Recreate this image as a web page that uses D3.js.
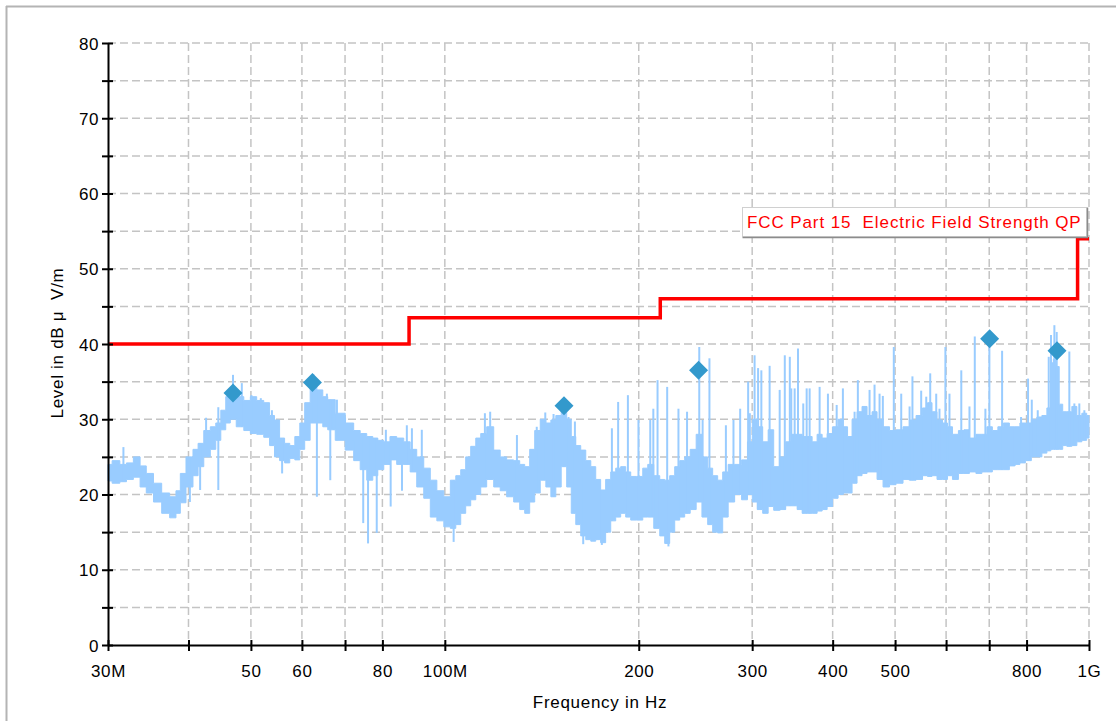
<!DOCTYPE html>
<html>
<head>
<meta charset="utf-8">
<script src="https://cdn.jsdelivr.net/npm/d3@7"></script>
<style>
  html, body { margin: 0; padding: 0; background: #ffffff; }
  svg { display: block; font-family: "Liberation Sans", Arial, sans-serif; }
</style>
</head>
<body>
<svg id="chart" width="1116" height="721"></svg>
<script>
// ---- Measured trace: frequency (MHz) with upper / lower envelope (dBµV/m) ----
const traceFreq = [
  30.0, 30.9, 31.7, 32.4, 33.3, 34.0, 34.8, 35.8, 36.9, 37.9, 38.6, 39.1, 40.2, 41.1, 41.7,
  42.8, 43.7, 44.5, 45.3, 46.1, 46.8, 48.1, 49.4, 50.4, 51.7, 53.0, 53.9, 54.9, 55.9, 56.9,
  58.0, 59.0, 60.1, 61.1, 62.5, 64.1, 65.2, 66.4, 68.8, 71.3, 73.1, 74.7, 76.6, 78.0, 79.4,
  81.4, 83.1, 85.3, 87.4, 89.3, 91.6, 93.9, 96.0, 98.4, 100.9, 103.1, 104.9, 106.8, 108.7, 110.7,
  112.7, 114.7, 117.6, 120.6, 123.2, 126.3, 129.5, 131.9, 134.2, 136.7, 139.1, 142.2, 144.8, 147.4, 150.0,
  153.2, 156.0, 158.3, 161.1, 164.0, 167.0, 170.0, 173.0, 176.1, 179.3, 182.6, 185.8, 189.2, 192.6, 196.1,
  201.1, 204.7, 208.4, 213.7, 217.5, 221.4, 225.4, 229.5, 233.6, 237.8, 243.0, 248.2, 253.6, 258.2, 262.8,
  267.6, 272.4, 278.3, 285.3, 292.5, 297.5, 302.8, 308.2, 314.8, 320.5, 327.5, 334.6, 341.8, 349.2, 355.5,
  361.9, 368.4, 375.0, 381.8, 388.7, 395.7, 404.2, 411.5, 418.9, 424.9, 432.6, 440.3, 448.3, 456.4, 464.6,
  473.0, 485.0, 495.5, 508.0, 520.9, 532.2, 545.7, 557.5, 565.5, 575.7, 586.0, 598.7, 607.3, 620.4, 633.8,
  645.3, 659.2, 675.9, 688.0, 700.4, 715.5, 728.5, 744.3, 760.4, 774.2, 788.1, 805.1, 822.6, 837.5, 852.6,
  867.9, 877.0, 883.6, 893.0, 905.0, 915.7, 932.1, 949.0, 966.1, 983.5, 1000.0
];
const traceHigh = [
  24.0, 24.5, 24.0, 24.2, 25.0, 23.8, 22.8, 21.5, 20.2, 19.7, 20.5, 22.8, 25.0, 26.0, 26.8,
  28.5, 29.0, 29.5, 31.2, 33.0, 34.0, 33.0, 32.5, 33.0, 32.5, 32.2, 30.5, 29.9, 27.5, 26.8,
  26.5, 27.7, 29.5, 32.2, 35.0, 33.9, 33.0, 32.6, 30.8, 29.5, 28.5, 28.1, 27.7, 27.5, 27.2,
  27.0, 27.7, 27.5, 27.0, 26.0, 25.0, 23.5, 21.9, 20.5, 19.7, 21.9, 22.5, 23.3, 25.0, 26.4,
  27.5, 28.1, 29.0, 25.9, 25.0, 24.6, 24.5, 24.0, 23.7, 26.0, 28.5, 30.0, 29.5, 29.9, 30.5,
  31.5, 30.0, 27.7, 26.5, 25.9, 24.5, 23.7, 22.0, 20.6, 22.0, 23.0, 23.5, 23.7, 23.0, 22.4,
  22.4, 23.5, 24.0, 22.5, 22.0, 21.9, 22.5, 23.7, 24.5, 25.0, 26.0, 28.0, 25.0, 23.5, 22.5,
  21.9, 23.0, 24.0, 24.0, 24.6, 27.0, 30.0, 29.0, 27.0, 28.6, 23.7, 25.0, 27.0, 28.0, 28.0,
  27.7, 27.7, 27.0, 28.0, 27.5, 28.1, 29.0, 30.0, 29.0, 27.7, 30.0, 31.0, 31.7, 30.5, 31.0,
  30.0, 29.0, 28.5, 28.6, 29.0, 29.9, 30.5, 31.5, 32.2, 31.0, 29.9, 29.5, 29.0, 28.0, 28.5,
  28.6, 27.5, 28.0, 28.0, 29.0, 28.5, 29.0, 29.5, 29.0, 29.0, 29.5, 29.5, 30.0, 30.3, 30.5,
  31.5, 37.5, 38.0, 37.0, 32.0, 31.0, 31.0, 31.7, 30.5, 30.8, 30.5
];
const traceLow = [
  21.8, 21.5, 21.7, 22.0, 22.3, 21.0, 20.2, 19.0, 17.5, 16.9, 17.5, 18.9, 21.0, 22.5, 23.7,
  25.0, 26.0, 27.2, 28.6, 29.5, 30.0, 29.0, 28.5, 28.1, 28.0, 27.6, 26.5, 25.0, 24.5, 24.2,
  24.8, 24.6, 26.0, 27.2, 29.5, 29.5, 29.0, 28.6, 27.2, 25.9, 24.5, 23.3, 21.9, 22.5, 23.3,
  24.0, 24.6, 24.0, 24.0, 23.0, 21.0, 19.5, 17.0, 16.5, 15.7, 15.5, 16.0, 17.5, 18.5, 19.3,
  20.0, 21.0, 22.0, 21.0, 20.5, 19.7, 19.0, 18.0, 17.5, 19.0, 20.2, 21.9, 21.0, 19.7, 21.0,
  23.7, 21.0, 17.5, 16.0, 14.5, 14.0, 13.8, 14.0, 13.6, 15.0, 16.5, 17.0, 17.5, 17.0, 16.6,
  16.6, 17.0, 17.0, 15.5, 14.5, 13.5, 15.0, 16.6, 17.0, 17.5, 18.0, 19.0, 17.0, 16.0, 15.0,
  14.9, 17.0, 19.0, 20.0, 19.3, 20.0, 19.0, 18.0, 17.5, 18.4, 17.9, 18.0, 18.5, 18.5, 18.0,
  17.5, 17.5, 17.5, 17.8, 18.0, 18.4, 19.5, 20.0, 20.2, 20.2, 21.5, 22.5, 22.8, 23.0, 23.0,
  22.0, 21.0, 21.3, 21.5, 22.0, 21.9, 22.0, 22.5, 22.4, 22.5, 22.0, 22.0, 22.5, 22.0, 22.8,
  22.8, 23.0, 22.8, 23.0, 23.0, 23.3, 23.3, 23.3, 23.8, 24.0, 24.2, 24.5, 25.0, 25.0, 25.5,
  25.8, 26.0, 26.0, 26.0, 26.0, 26.5, 26.4, 26.5, 27.0, 27.2, 27.5
];

// Narrow emissions rising above the noise floor
const spikeFreq = [
  31.7, 42.6, 44.5, 46.9, 48.4, 50.1, 51.8, 53.9, 62.5, 65.6, 67.2, 68.0, 70.0, 72.1,
  81.0, 87.3, 88.9, 92.1,
  115.4, 117.6, 129.4, 138.9, 143.2, 147.5, 153.1, 155.6, 159.2, 181.7, 185.8, 192.4,
  199.8, 208.4, 210.7, 213.9, 221.4, 230.5, 237.7, 248.3, 251.3, 257.5, 273.1, 280.6,
  287.4, 295.7, 297.5, 302.6, 306.4, 310.0, 319.3, 331.0, 337.1, 343.2, 345.0, 349.2,
  353.4, 360.1, 364.5, 368.4, 381.8, 393.3, 405.8, 414.9, 432.6, 437.7, 456.4, 464.6,
  473.0, 478.6, 497.7, 511.1, 526.6, 532.0, 548.9, 558.9, 566.9, 579.2, 586.0, 598.5,
  607.3, 633.5, 652.3, 664.8, 690.5, 700.4, 733.0, 766.0, 784.4, 804.2, 815.0, 832.6,
  865.9, 873.0, 883.6, 891.0, 932.1, 949.0, 966.0, 983.5
];
const spikeTop = [
  26.3, 30.2, 31.6, 35.9, 34.8, 33.2, 32.8, 31.2, 36.0, 33.4, 31.7, 32.6, 30.2, 27.2,
  28.6, 29.2, 28.8, 28.6,
  30.8, 31.0, 27.9, 29.0, 30.9, 30.7, 32.6, 30.3, 29.7, 28.8, 32.3, 33.2,
  29.9, 29.9, 31.4, 35.2, 34.3, 31.4, 31.0, 39.6, 29.9, 38.1, 29.2, 29.9,
  31.4, 35.0, 30.8, 38.5, 36.8, 36.5, 37.1, 33.9, 38.5, 38.3, 34.1, 34.1,
  39.4, 32.1, 34.1, 34.1, 34.3, 33.4, 31.9, 34.1, 31.0, 35.2, 33.9, 34.6,
  33.4, 33.1, 39.6, 33.4, 31.7, 35.7, 33.8, 33.0, 36.1, 33.4, 31.4, 39.6,
  33.4, 36.5, 31.7, 41.0, 31.4, 40.9, 39.1, 28.8, 30.3, 35.4, 32.6, 31.2,
  38.3, 41.2, 42.5, 41.6, 39.0, 32.1, 32.1, 31.2
];

// Short drop-outs below the noise floor
const dipFreq = [40.2, 41.7, 44.5, 55.9, 63.3, 66.4, 74.7, 76.0, 78.4, 82.4, 85.8, 103.2, 164.0, 175.3, 222.4];
const dipBottom = [19.0, 20.6, 20.6, 22.8, 19.7, 21.9, 16.2, 13.5, 14.9, 18.4, 20.5, 13.7, 13.4, 13.3, 13.1];

// Peak findings
const peakFreq = [46.9, 62.3, 153.1, 247.7, 701.0, 891.9];
const peakLevel = [33.5, 34.9, 31.8, 36.5, 40.7, 39.1];

// FCC Part 15 QP limit (edges in MHz, level valid from each edge)
const limitFreq = [30, 88, 216, 960, 1000];
const limitLevel = [40, 43.5, 46, 54, 54];
const limitName = "FCC Part 15  Electric Field Strength QP";

// Axes
const xTickValues = [30, 40, 50, 60, 70, 80, 100, 200, 300, 400, 500, 600, 700, 800, 1000];
const xLabelValues = [30, 50, 60, 80, 100, 200, 300, 400, 500, 800, 1000];
const xLabelTexts = ["30M", "50", "60", "80", "100M", "200", "300", "400", "500", "800", "1G"];
const yTickValues = [0, 5, 10, 15, 20, 25, 30, 35, 40, 45, 50, 55, 60, 65, 70, 75, 80];
const yLabelValues = [0, 10, 20, 30, 40, 50, 60, 70, 80];
const xTitle = "Frequency in Hz";
const yTitle = "Level in dB\u00a0\u03bc\u00a0\u00a0V/m";

// ---------------------------------------------------------------------------
(function draw() {
  const svg = d3.select("#chart");
  const W = 1116, H = 721;
  const mLeft = 108, mRight = 1089, mTop = 43, mBottom = 645;

  const x = d3.scaleLog().domain([30, 1000]).range([mLeft, mRight]);
  const y = d3.scaleLinear().domain([0, 80]).range([mBottom, mTop]);

  // outer frame (top and left edges)
  svg.append("line").attr("x1", 6).attr("x2", W).attr("y1", 6.5).attr("y2", 6.5)
    .attr("stroke", "#b4b4b4").attr("stroke-width", 2);
  svg.append("line").attr("x1", 6.5).attr("x2", 6.5).attr("y1", 6).attr("y2", H)
    .attr("stroke", "#b4b4b4").attr("stroke-width", 2);

  // grid
  const grid = svg.append("g").attr("stroke", "#c4c4c4").attr("stroke-width", 1.5)
    .attr("stroke-dasharray", "8,4");
  grid.selectAll(".gh").data(yTickValues.filter(v => v > 0)).join("line")
    .attr("x1", mLeft).attr("x2", mRight)
    .attr("y1", d => y(d)).attr("y2", d => y(d));
  grid.selectAll(".gv").data(xTickValues.filter(v => v > 30)).join("line")
    .attr("x1", d => x(d)).attr("x2", d => x(d))
    .attr("y1", mTop).attr("y2", mBottom);

  // trace
  const trace = traceFreq.map((f, i) => ({ f, hi: traceHigh[i], lo: traceLow[i] }));
  const bis = d3.bisector(d => d.f).center;
  const traceColor = "#99ccff";
  svg.append("path").datum(trace)
    .attr("fill", traceColor)
    .attr("stroke", traceColor).attr("stroke-width", 1)
    .attr("d", d3.area().curve(d3.curveStep)
      .x(d => x(d.f)).y0(d => y(d.lo)).y1(d => y(d.hi)));

  svg.append("g").attr("stroke", traceColor).attr("stroke-width", 2)
    .selectAll("line").data(spikeFreq.map((f, i) => ({ f, v: spikeTop[i] }))).join("line")
    .attr("x1", d => x(d.f)).attr("x2", d => x(d.f))
    .attr("y1", d => y(d.v))
    .attr("y2", d => y(trace[bis(trace, d.f)].lo));

  svg.append("g").attr("stroke", traceColor).attr("stroke-width", 2)
    .selectAll("line").data(dipFreq.map((f, i) => ({ f, v: dipBottom[i] }))).join("line")
    .attr("x1", d => x(d.f)).attr("x2", d => x(d.f))
    .attr("y1", d => y(d.v))
    .attr("y2", d => y(trace[bis(trace, d.f)].hi));

  // limit line
  svg.append("path").datum(limitFreq.map((f, i) => ({ f, v: limitLevel[i] })))
    .attr("fill", "none").attr("stroke", "#ff0000").attr("stroke-width", 3.5)
    .attr("d", d3.line().curve(d3.curveStepAfter).x(d => x(d.f)).y(d => y(d.v)));

  // peak markers
  const diamond = r => `M0,${-r}L${r},0L0,${r}L${-r},0Z`;
  svg.append("g").selectAll("path").data(peakFreq.map((f, i) => ({ f, v: peakLevel[i] }))).join("path")
    .attr("transform", d => `translate(${x(d.f)},${y(d.v)})`)
    .attr("d", diamond(9.5))
    .attr("fill", "#3399cc");

  // limit caption
  const cap = svg.append("g");
  cap.append("rect").attr("x", 742.5).attr("y", 207.5).attr("width", 344).attr("height", 29)
    .attr("fill", "#ffffff").attr("stroke", "#d0d0d0").attr("stroke-width", 1);
  cap.append("path").attr("d", "M1087.5,207.5V237.5H742.5")
    .attr("fill", "none").attr("stroke", "#8c8c8c").attr("stroke-width", 1.5);
  cap.append("text").attr("x", 747).attr("y", 228)
    .attr("fill", "#ff0000").attr("font-size", 17).attr("letter-spacing", 0.9)
    .style("white-space", "pre")
    .text(limitName);

  // axes
  const labelOf = new Map(xLabelValues.map((v, i) => [v, xLabelTexts[i]]));
  const gx = svg.append("g").attr("transform", `translate(0,${mBottom})`)
    .call(d3.axisBottom(x).tickValues(xTickValues).tickFormat(d => labelOf.get(d) || "")
      .tickSizeOuter(0));
  gx.select(".domain").attr("stroke", "#000").attr("stroke-width", 2);
  gx.selectAll(".tick line").attr("y1", -5).attr("y2", 6).attr("stroke", "#000").attr("stroke-width", 2);
  gx.selectAll(".tick text").attr("y", 32).attr("dy", null)
    .attr("font-size", 17).attr("letter-spacing", 0.6).attr("fill", "#000")
    .attr("font-family", "Liberation Sans, Arial, sans-serif");

  const gy = svg.append("g").attr("transform", `translate(${mLeft},0)`)
    .call(d3.axisLeft(y).tickValues(yTickValues)
      .tickFormat(d => yLabelValues.includes(d) ? String(d) : "").tickSizeOuter(0));
  gy.select(".domain").attr("stroke", "#000").attr("stroke-width", 2);
  gy.selectAll(".tick line").attr("x1", -6).attr("x2", 5).attr("stroke", "#000").attr("stroke-width", 2);
  gy.selectAll(".tick text").attr("x", -9).attr("dy", "0.36em")
    .attr("font-size", 17).attr("letter-spacing", 0.6).attr("fill", "#000")
    .attr("font-family", "Liberation Sans, Arial, sans-serif");

  // titles
  svg.append("text").attr("x", 600).attr("y", 708).attr("text-anchor", "middle")
    .attr("font-size", 17).attr("letter-spacing", 0.7).attr("fill", "#000")
    .text(xTitle);
  svg.append("text").attr("transform", "translate(63,343) rotate(-90)")
    .attr("text-anchor", "middle")
    .attr("font-size", 17).attr("letter-spacing", 0.7).attr("fill", "#000")
    .style("white-space", "pre")
    .text(yTitle);
})();
</script>
</body>
</html>
